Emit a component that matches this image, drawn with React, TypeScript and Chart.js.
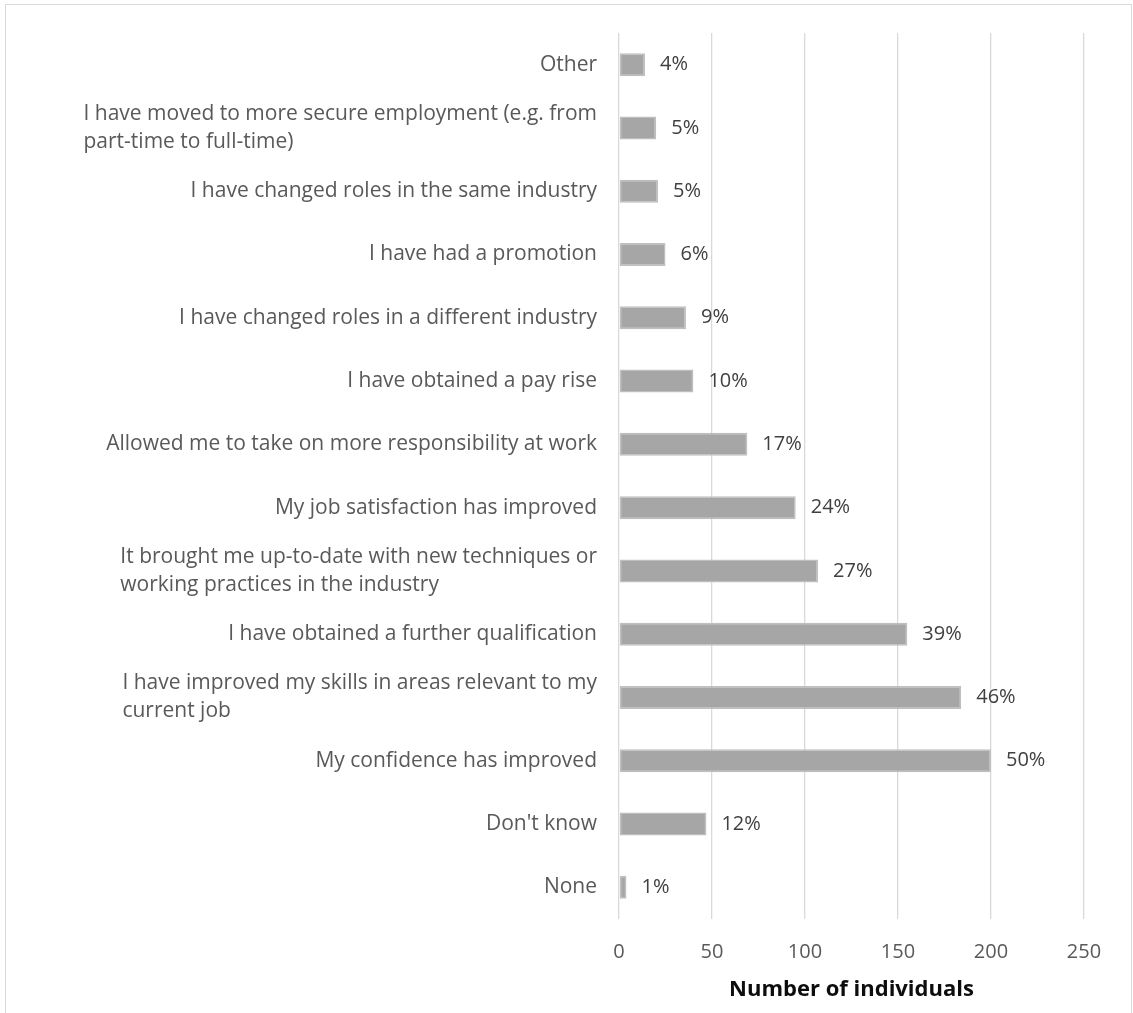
import React, { useEffect, useRef } from "react";
import { Chart, registerables } from "chart.js";

Chart.register(...registerables);

const categories: string[][] = [
  ["Other"],
  ["I have moved to more secure employment (e.g. from", "part-time to full-time)"],
  ["I have changed roles in the same industry"],
  ["I have had a promotion"],
  ["I have changed roles in a different industry"],
  ["I have obtained a pay rise"],
  ["Allowed me to take on more responsibility at work"],
  ["My job satisfaction has improved"],
  ["It brought me up-to-date with new techniques or", "working practices in the industry"],
  ["I have obtained a further qualification"],
  ["I have improved my skills in areas relevant to my", "current job"],
  ["My confidence has improved"],
  ["Don't know"],
  ["None"],
];

const counts: number[] = [14, 20, 21, 25, 36, 40, 69, 95, 107, 155, 184, 200, 47, 4];

const percentLabels: string[] = [
  "4%", "5%", "5%", "6%", "9%", "10%", "17%", "24%", "27%", "39%", "46%", "50%", "12%", "1%",
];

const xTicks: number[] = [0, 50, 100, 150, 200, 250];

const axisTitle = "Number of individuals";

const FONT = "'Open Sans', sans-serif";
const LABEL_SIZE = 21;
const DATA_LABEL_SIZE = 20;
const LINE_GAP = 28;

const yLabelPlugin = {
  id: "yLabelPlugin",
  afterDraw(chart: any) {
    const ctx = chart.ctx;
    const y = chart.scales.y;
    const right = chart.chartArea.left - 22;
    ctx.save();
    ctx.font = `${LABEL_SIZE}px ${FONT}`;
    ctx.fillStyle = "#595959";
    ctx.textBaseline = "middle";
    ctx.textAlign = "left";
    categories.forEach((lines, i) => {
      const cy = y.getPixelForValue(i);
      const w = Math.max(...lines.map((l) => ctx.measureText(l).width));
      const x0 = right - w;
      lines.forEach((l, j) => {
        ctx.fillText(l, x0, cy + (j - (lines.length - 1) / 2) * LINE_GAP);
      });
    });
    ctx.restore();
  },
};

const dataLabelPlugin = {
  id: "dataLabelPlugin",
  afterDatasetsDraw(chart: any) {
    const ctx = chart.ctx;
    const meta = chart.getDatasetMeta(0);
    ctx.save();
    ctx.font = `${DATA_LABEL_SIZE}px ${FONT}`;
    ctx.fillStyle = "#404040";
    ctx.textBaseline = "middle";
    ctx.textAlign = "left";
    meta.data.forEach((bar: any, i: number) => {
      ctx.fillText(percentLabels[i], bar.x + 15, bar.y);
    });
    ctx.restore();
  },
};

export default function App() {
  const canvasRef = useRef<HTMLCanvasElement | null>(null);

  useEffect(() => {
    if (!canvasRef.current) return;
    const chart = new Chart(canvasRef.current, {
      type: "bar",
      data: {
        labels: categories.map((c) => c.join(" ")),
        datasets: [
          {
            data: counts,
            backgroundColor: "#a6a6a6",
            borderColor: "#bfbfbf",
            borderWidth: 1.5,
            borderSkipped: false,
            barPercentage: 0.363,
            categoryPercentage: 1,
          },
        ],
      },
      options: {
        indexAxis: "y",
        animation: false,
        responsive: true,
        maintainAspectRatio: false,
        layout: { padding: { top: 28, right: 47, left: 0, bottom: 0 } },
        plugins: {
          legend: { display: false },
          tooltip: { enabled: false },
        },
        scales: {
          x: {
            min: 0,
            max: 250,
            afterBuildTicks: (s: any) => {
              s.ticks = xTicks.map((v) => ({ value: v }));
            },
            afterFit: (s: any) => {
              s.height = 105;
            },
            grid: { color: "#d9d9d9", lineWidth: 1.3, drawTicks: false },
            border: { display: false },
            ticks: {
              padding: 21,
              color: "#595959",
              font: { family: FONT, size: 20 },
            },
            title: {
              display: true,
              text: axisTitle,
              color: "#0d0d0d",
              font: { family: FONT, size: 22, weight: "bold" },
              padding: { top: 0, bottom: 21 },
            },
          },
          y: {
            afterFit: (s: any) => {
              s.width = 613;
            },
            grid: { display: false },
            border: { display: false },
            ticks: { display: false },
          },
        },
      },
      plugins: [yLabelPlugin, dataLabelPlugin],
    });
    return () => chart.destroy();
  }, []);

  return (
    <div
      style={{
        position: "absolute",
        left: 5,
        top: 4,
        width: 1127,
        height: 1021,
        boxSizing: "border-box",
        border: "1px solid #d9d9d9",
        background: "#fff",
      }}
    >
      <div style={{ position: "relative", width: "100%", height: "100%" }}>
        <canvas ref={canvasRef} />
      </div>
    </div>
  );
}
